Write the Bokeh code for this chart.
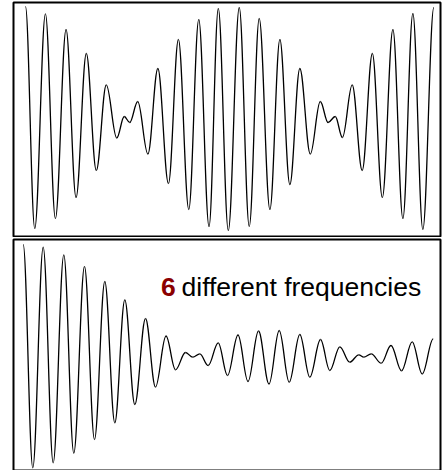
from bokeh.plotting import figure
from bokeh.layouts import column
from bokeh.models import Range1d, Label
from bokeh.embed import file_html
from bokeh.resources import INLINE

# ---- data: extremes (time in samples, amplitude) ----
beat_t = [12.0, 21.3, 32.0, 42.0, 52.7, 62.7, 73.0, 83.0, 93.0, 103.5, 111.0, 116.5,
          124.5, 134.7, 144.7, 155.3, 165.3, 175.7, 185.7, 196.0, 205.3, 215.3, 226.3,
          236.3, 246.3, 257.0, 267.0, 277.0, 287.0, 297.5, 307.5, 315.3, 322.5, 329.7,
          339.5, 349.5, 359.7, 369.7, 380.3, 390.3, 400.3, 410.3, 421.3]
beat_a = [113, -109, 105.7, -99, 90, -78, 66, -51, 34.7, -18.5, 3, -3,
          18, -34.5, 51, -64, 80, -90, 100, -107, 111, -111, 112,
          -107, 101, -90, 80, -65, 51, -34.5, 18, -3, 3, -18,
          34.7, -51, 66, -78, 90, -99, 106, -110, 112]

mix_t = [9.7, 19.3, 29.7, 39.7, 50.3, 60.3, 71.0, 81.0, 91.3, 101.3, 111.3, 121.3,
         132.0, 142.0, 152.5, 162.0, 172.0, 179.3, 186.3, 194.7, 204.7, 214.0, 224.5,
         234.5, 245.0, 255.5, 265.7, 275.7, 286.3, 296.3, 307.0, 316.3, 326.3, 336.2,
         345.3, 350.3, 357.7, 367.7, 377.5, 388.0, 398.7, 408.7, 419.7]
mix_a = [113, -110.3, 110.3, -105.3, 102.7, -95.7, 91, -82, 76, -65.3, 57.7, -47,
         39, -29.5, 21.5, -12.3, 5, 0.3, 3.7, -8, 14.7, -18, 22.5,
         -24, 26.5, -26.5, 27, -24.7, 23, -19.7, 18, -13, 10.7, -4.7,
         2.7, 0.3, 3.7, -5.7, 12, -13.3, 15.7, -16.5, 18.7]

label_count = "6"
label_rest = "different frequencies"

K = 0.3642  # bezier handle fraction for a sine-like half period


def draw_wave(p, t, a):
    x0, y0 = t[:-1], a[:-1]
    x1, y1 = t[1:], a[1:]
    cx0 = [xa + K * (xb - xa) for xa, xb in zip(x0, x1)]
    cx1 = [xb - K * (xb - xa) for xa, xb in zip(x0, x1)]
    p.bezier(x0=x0, y0=y0, x1=x1, y1=y1, cx0=cx0, cy0=y0, cx1=cx1, cy1=y1,
             line_color="black", line_width=1.3)


def make_fig(height, xr, y0, y1, right, top, bottom):
    p = figure(width=442, height=height, output_backend="svg", toolbar_location=None,
               x_axis_location=None, y_axis_location=None,
               x_range=Range1d(0, xr), y_range=Range1d(y0, y1),
               min_border_left=13, min_border_right=right,
               min_border_top=top, min_border_bottom=bottom)
    p.grid.visible = False
    p.outline_line_color = "black"
    p.outline_line_width = 2
    p.background_fill_color = "white"
    p.border_fill_color = "white"
    return p


# top panel: frame 2..236 (234 px), x 13..441
p1 = make_fig(237, 428, -117, 117, 1, 2, 1)
draw_wave(p1, beat_t, beat_a)

# bottom panel: frame 239..471 (232 px, runs past the window), x 13..440
p2 = make_fig(234, 427, -114, 118, 2, 2, 0)
draw_wave(p2, mix_t, mix_a)

p2.add_layout(Label(x=147.5, y=71, text=label_count, text_font="Liberation Sans",
                    text_font_style="bold", text_font_size="26.5px",
                    text_color="#8b0000", text_baseline="alphabetic"))
p2.add_layout(Label(x=168, y=71, text=label_rest, text_font="Liberation Sans",
                    text_font_size="26.5px", text_color="black",
                    text_baseline="alphabetic"))

layout = column(p1, p2, spacing=0, margin=(0, 0, -6, 0))

open("out.html", "w").write(file_html(layout, INLINE))
